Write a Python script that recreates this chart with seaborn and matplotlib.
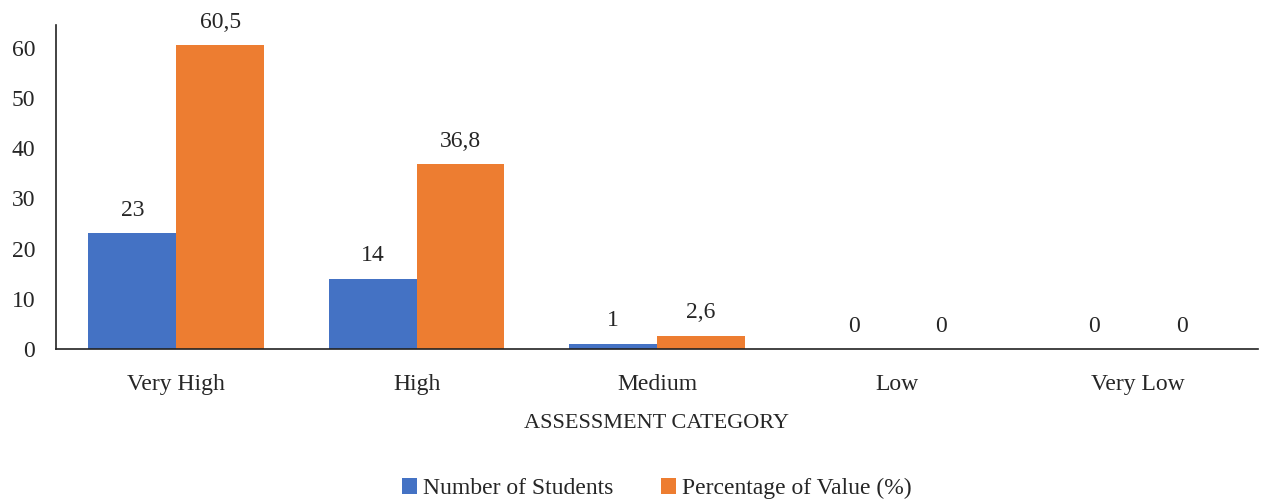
import matplotlib
matplotlib.use("Agg")
import matplotlib.pyplot as plt
import seaborn as sns
import pandas as pd

categories = ["Very High", "High", "Medium", "Low", "Very Low"]
students = [23, 14, 1, 0, 0]
percentage = [60.5, 36.8, 2.6, 0, 0]
series_names = ["Number of Students", "Percentage of Value (%)"]
colors = ["#4472C4", "#ED7D31"]

sns.set_theme(style="white")
plt.rcParams["font.family"] = ["Liberation Serif", "DejaVu Serif"]

df = pd.DataFrame({
    "category": categories * 2,
    "value": students + percentage,
    "series": [series_names[0]] * len(categories) + [series_names[1]] * len(categories),
})

fig = plt.figure(figsize=(12.62, 5.03), dpi=100)
ax = fig.add_axes([56 / 1262, 1 - 349 / 503, (1258 - 56) / 1262, (349 - 25) / 503])

sns.barplot(data=df, x="category", y="value", hue="series", order=categories,
            hue_order=series_names, palette=colors, width=0.73, saturation=1,
            edgecolor="none", ax=ax)

for container in ax.containers:
    labels = [f"{v:g}".replace(".", ",") for v in container.datavalues]
    ax.bar_label(container, labels=labels, padding=9, fontsize=17)

ax.set_ylim(0, 64.5)
ax.set_yticks(range(0, 61, 10))
ax.set_xlim(-0.5, len(categories) - 0.5)
for side in ["top", "right"]:
    ax.spines[side].set_visible(False)
for side in ["left", "bottom"]:
    ax.spines[side].set_color("#222222")
    ax.spines[side].set_linewidth(1.2)
ax.tick_params(axis="both", length=0, labelsize=17)
ax.tick_params(axis="y", pad=15)
ax.tick_params(axis="x", pad=18)
ax.set_ylabel("")
ax.set_xlabel("ASSESSMENT CATEGORY", fontsize=16, labelpad=14)

ax.legend(loc="lower center", bbox_to_anchor=(0.5, -0.53), ncol=2, frameon=False,
          fontsize=17, handlelength=0.65, handleheight=0.65, handletextpad=0.25,
          columnspacing=2.0)

fig.savefig("out.png", dpi=100)
